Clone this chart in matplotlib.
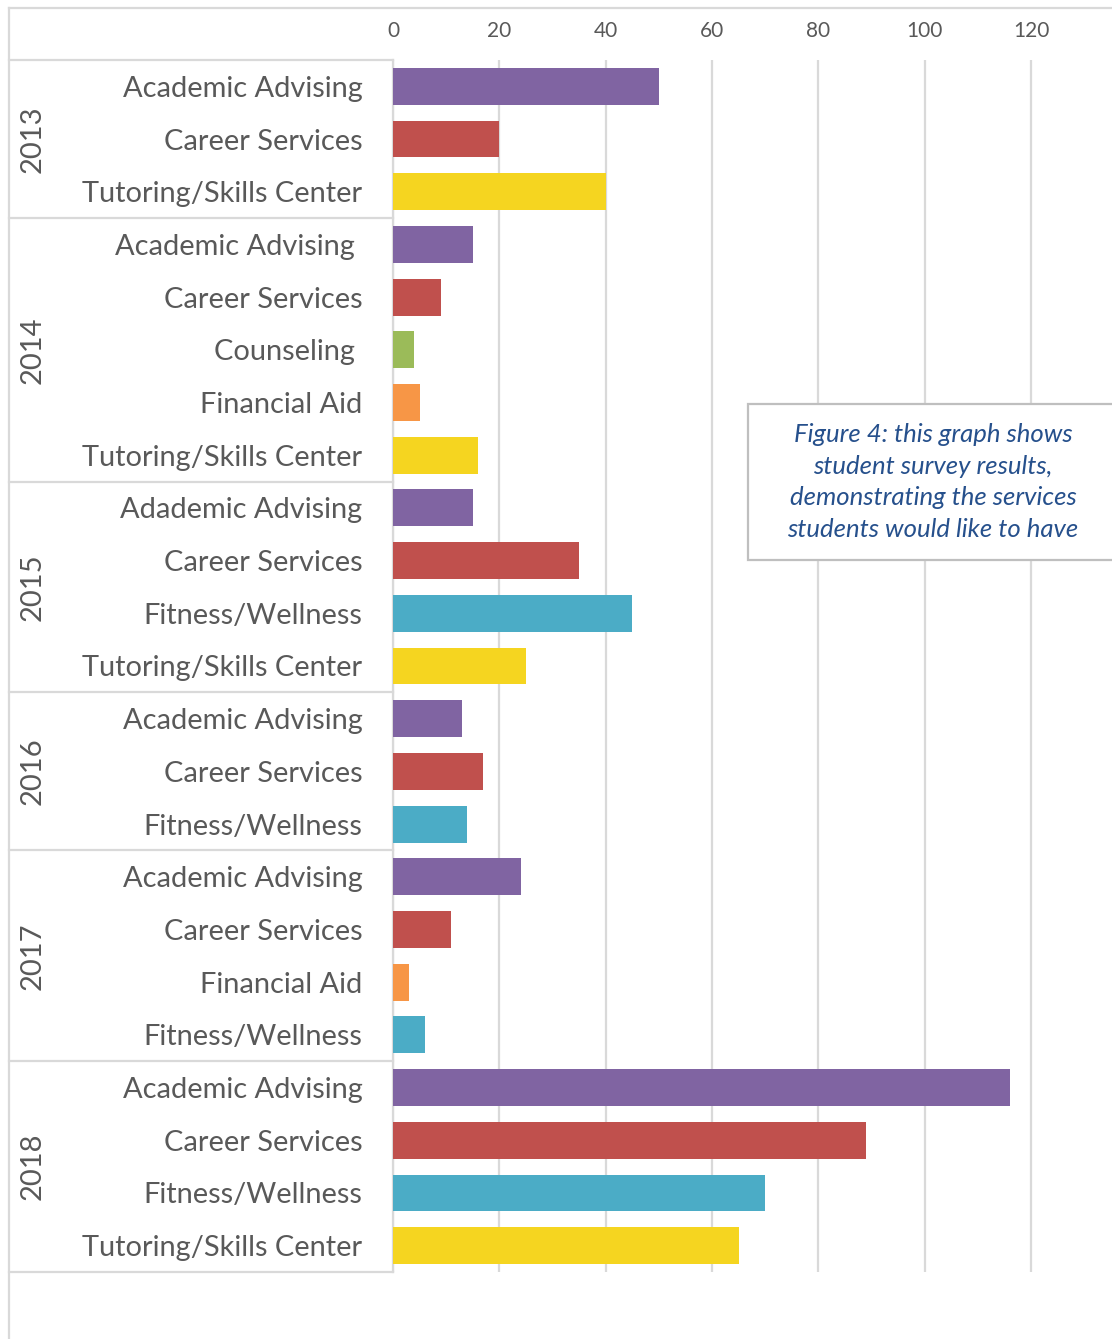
import matplotlib
matplotlib.use('Agg')
import matplotlib.pyplot as plt
from matplotlib.lines import Line2D
from matplotlib.patches import Rectangle
from matplotlib.transforms import blended_transform_factory

# survey results, one list per year (top to bottom)
years = ['2013', '2014', '2015', '2016', '2017', '2018']
services = [
    ['Academic Advising', 'Career Services', 'Tutoring/Skills Center'],
    ['Academic Advising ', 'Career Services', 'Counseling ', 'Financial Aid', 'Tutoring/Skills Center'],
    ['Adademic Advising', 'Career Services', 'Fitness/Wellness', 'Tutoring/Skills Center'],
    ['Academic Advising', 'Career Services', 'Fitness/Wellness'],
    ['Academic Advising', 'Career Services', 'Financial Aid', 'Fitness/Wellness'],
    ['Academic Advising', 'Career Services', 'Fitness/Wellness', 'Tutoring/Skills Center'],
]
counts = [
    [50, 20, 40],
    [15, 9, 4, 5, 16],
    [15, 35, 45, 25],
    [13, 17, 14],
    [24, 11, 3, 6],
    [116, 89, 70, 65],
]
xticks = [0, 20, 40, 60, 80, 100, 120]

service_colors = {
    'Academic': '#8064A2',
    'Adademic': '#8064A2',
    'Career': '#C0504D',
    'Tutoring': '#F5D520',
    'Counseling': '#9BBB59',
    'Financial': '#F79646',
    'Fitness': '#4BACC6',
}

W, H = 1112, 1339
FONT = 'Lato'
GRAY = '#595959'
LINE = '#D9D9D9'

labels, values, colors, group_bounds = [], [], [], [-0.5]
for names, vals in zip(services, counts):
    labels += names
    values += vals
    colors += [service_colors[n.split()[0].split('/')[0]] for n in names]
    group_bounds.append(len(labels) - 0.5)
ypos = list(range(len(labels)))

fig = plt.figure(figsize=(W / 100, H / 100), dpi=100)
x0, x1, ytop, ybot = 393, 1112, 60, 1272
ax = fig.add_axes([x0 / W, 1 - ybot / H, (x1 - x0) / W, (ybot - ytop) / H])

ax.barh(ypos, values, height=0.70, color=colors, zorder=3)
ax.set_xlim(0, (x1 - x0) / 5.317)
ax.set_ylim(len(labels) - 0.5, -0.5)

ax.xaxis.tick_top()
ax.set_xticks(xticks)
ax.set_xticklabels([str(t) for t in xticks], fontsize=15, color=GRAY, family=FONT)
ax.tick_params(axis='x', length=0, pad=14)
ax.set_yticks(ypos)
ax.set_yticklabels(labels, fontsize=20.9, color=GRAY, family=FONT)
ax.tick_params(axis='y', length=0, pad=22)
ax.grid(axis='x', color=LINE, linewidth=1.6, zorder=0)
for s in ['top', 'right', 'bottom']:
    ax.spines[s].set_visible(False)
ax.spines['left'].set_color(LINE)
ax.spines['left'].set_linewidth(1.6)

# multi-level category axis: group separators and rotated year labels
tr = blended_transform_factory(fig.transFigure, ax.transData)
for b in group_bounds:
    fig.add_artist(Line2D([9 / W, x0 / W], [b, b], transform=tr, color=LINE, linewidth=1.6))
for i, yr in enumerate(years):
    mid = (group_bounds[i] + group_bounds[i + 1]) / 2
    fig.text(33 / W, mid, yr, transform=tr, rotation=90, ha='center', va='center',
             fontsize=21, color=GRAY, family=FONT)

# chart frame (right and bottom edges are cut off)
fig.add_artist(Line2D([9 / W, 1], [1 - 8 / H, 1 - 8 / H], color=LINE, linewidth=1.6))
fig.add_artist(Line2D([9 / W, 9 / W], [0, 1 - 8 / H], color=LINE, linewidth=1.6))

# caption box
fig.add_artist(Rectangle((748 / W, 1 - 560 / H), (1120 - 748) / W, (560 - 404) / H,
                         transform=fig.transFigure, facecolor='white', edgecolor='#BFBFBF',
                         linewidth=1.6, zorder=5))
fig.text(933 / W, 1 - 482 / H,
         'Figure 4: this graph shows\nstudent survey results,\ndemonstrating the services\nstudents would like to have',
         ha='center', va='center', fontsize=18.5, style='italic', color='#26508C',
         family=FONT, linespacing=1.45, zorder=6)

fig.savefig('out.png', dpi=100)
